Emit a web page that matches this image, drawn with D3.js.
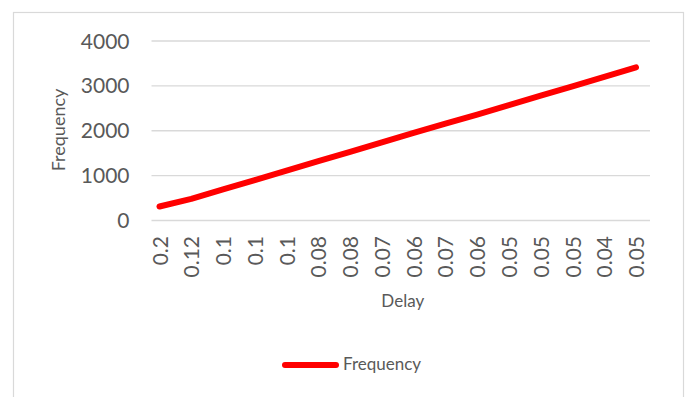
<!DOCTYPE html>
<html>
<head>
<meta charset="utf-8">
<script src="https://cdn.jsdelivr.net/npm/d3@7"></script>
<style>
  html, body { margin: 0; padding: 0; background: #ffffff; }
  svg { display: block; }
  text { font-family: Lato, "Open Sans", "DejaVu Sans", sans-serif; fill: #595959; }
</style>
</head>
<body>
<svg id="chart" width="686" height="397"></svg>
<script>
// Delay values (category labels) and measured frequency for each run
const delays = ["0.2", "0.12", "0.1", "0.1", "0.1", "0.08", "0.08", "0.07",
                "0.06", "0.07", "0.06", "0.05", "0.05", "0.05", "0.04", "0.05"];
const frequency = [300, 470, 680, 890, 1100, 1310, 1520, 1730,
                   1940, 2150, 2350, 2560, 2770, 2980, 3190, 3400];
const yTicks = [0, 1000, 2000, 3000, 4000];
const seriesName = "Frequency";
const xTitle = "Delay";
const yTitle = "Frequency";

const svg = d3.select("#chart");

// chart area frame
svg.append("rect")
  .attr("x", 13.5).attr("y", 12.5)
  .attr("width", 670).attr("height", 400)
  .attr("fill", "none")
  .attr("stroke", "#d9d9d9")
  .attr("stroke-width", 1.2);

const plot = { left: 151.5, right: 650, top: 40.5, bottom: 220 };

// delays repeat, so positions are keyed by index
const x = d3.scalePoint()
  .domain(d3.range(delays.length))
  .range([159.5, 636]);

const y = d3.scaleLinear()
  .domain([0, 4000])
  .range([plot.bottom, plot.top]);

// horizontal gridlines + value labels
const yAxis = svg.append("g")
  .attr("transform", `translate(${plot.left},0)`)
  .call(d3.axisLeft(y)
    .tickValues(yTicks)
    .tickFormat(d3.format("d"))
    .tickSize(-(plot.right - plot.left))
    .tickPadding(22));
yAxis.select(".domain").remove();
yAxis.selectAll(".tick line")
  .attr("stroke", "#d9d9d9")
  .attr("stroke-width", 1.3);
yAxis.selectAll(".tick text")
  .attr("font-size", 21)
  .attr("dy", "0.36em")
  .style("fill", "#595959");

// category labels, rotated
const xAxis = svg.append("g")
  .attr("transform", `translate(0,${plot.bottom})`)
  .call(d3.axisBottom(x)
    .tickFormat(i => delays[i])
    .tickSize(0));
xAxis.select(".domain").remove();
xAxis.selectAll(".tick text")
  .attr("font-size", 21)
  .attr("text-anchor", "end")
  .attr("transform", "rotate(-90)")
  .attr("x", -16)
  .attr("y", 0)
  .attr("dy", "0.36em")
  .style("fill", "#595959");

// axis titles
svg.append("text")
  .attr("x", (plot.left + plot.right) / 2 + 2)
  .attr("y", 306.5)
  .attr("text-anchor", "middle")
  .attr("font-size", 17)
  .text(xTitle);

svg.append("text")
  .attr("transform", `translate(65,130) rotate(-90)`)
  .attr("text-anchor", "middle")
  .attr("font-size", 18)
  .text(yTitle);

// series line
const line = d3.line()
  .x((d, i) => x(i))
  .y(d => y(d));

svg.append("path")
  .datum(frequency)
  .attr("d", line)
  .attr("fill", "none")
  .attr("stroke", "#ff0000")
  .attr("stroke-width", 6)
  .attr("stroke-linecap", "round")
  .attr("stroke-linejoin", "round");

// legend
const legend = svg.append("g");
legend.append("line")
  .attr("x1", 285).attr("x2", 336)
  .attr("y1", 365).attr("y2", 365)
  .attr("stroke", "#ff0000")
  .attr("stroke-width", 6)
  .attr("stroke-linecap", "round");
legend.append("text")
  .attr("x", 343)
  .attr("y", 370)
  .attr("font-size", 17)
  .text(seriesName);
</script>
</body>
</html>
